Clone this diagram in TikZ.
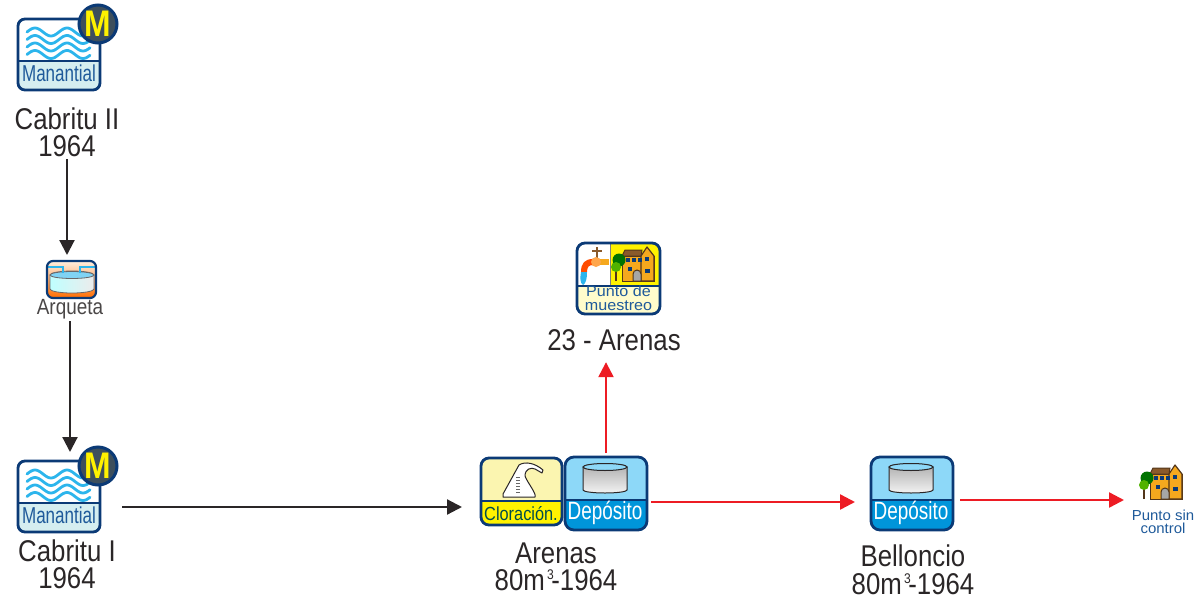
\documentclass[tikz,border=0pt]{standalone}
\usepackage{fontspec}
\setmainfont[FakeStretch=0.86]{Liberation Sans}
\usetikzlibrary{arrows.meta}
\definecolor{navy}{HTML}{0B3A76}
\definecolor{sky}{HTML}{2CB5EC}
\definecolor{ink}{HTML}{2A2627}
\definecolor{bluetxt}{HTML}{1F5A9A}
\definecolor{brick}{HTML}{8A5A2B}
\definecolor{amber}{HTML}{F5A81E}
\definecolor{slate}{HTML}{3D4F5C}
\definecolor{mist}{HTML}{D5EEF0}
\definecolor{cream}{HTML}{FBF5B0}
\definecolor{paleblue}{HTML}{8DD8F8}
\definecolor{deepblue}{HTML}{0095DA}
\definecolor{signal}{HTML}{ED1C24}
\newcommand{\fsize}[1]{\fontsize{#1}{#1}\selectfont}
\newcommand{\iconbase}[6]{% width, height, divider, top, bottom, rounding
  \begin{scope}
    \clip[rounded corners=#6pt] (0,0) rectangle (#1,#2);
    \fill[#4] (0,0) rectangle (#1,#3);
    \fill[#5] (0,#3) rectangle (#1,#2);
  \end{scope}
}
\newcommand{\iconframe}[4]{% width, height, divider, rounding
  \draw[navy, line width=2pt] (0,#3) -- (#1,#3);
  \node[draw=navy, line width=2.8pt, rounded corners=#4pt, inner sep=0pt, outer sep=0pt, anchor=north west,
        minimum width=#1pt, minimum height=#2pt] (-box) at (0,0) {};
}
\tikzset{
  darrow/.style={draw=ink, line width=2.2pt, -{Triangle[length=15pt,width=15pt]}},
  rarrow/.style={draw=signal, line width=2.4pt, -{Triangle[length=15pt,width=15pt]}},
  caption/.style={text=ink, font=\fsize{30}, align=center, inner sep=0pt, text depth=0pt},
  wave/.style={draw=sky, line width=2.8pt, line cap=round},
  drum/.style={draw=ink, line width=1pt, top color=black!32, bottom color=black!5},
  manantial/.pic={
    \iconbase{82}{71}{42}{white}{mist}{7}
    \foreach \r in {13,20.5,28,35.5}
      \draw[wave] plot[domain=9:72,samples=50] (\x,{\r-4*cos(11.25*(\x-17))});
    \iconframe{82}{71}{42}{7}
    \node[text=bluetxt, font=\fsize{23}, inner sep=0pt] (-txt) at (41,54) {\scalebox{.86}[1]{Manantial}};
    \fill[slate, draw=navy, line width=3pt] (80,5) circle (19);
    \node[text=yellow, font=\fsize{37}\bfseries, inner sep=0pt] (-m) at (80,5) {M};
  },
  deposito/.pic={
    \iconbase{82}{73}{43}{paleblue}{deepblue}{9}
    \path[drum] (18,10) -- (18,33) arc[start angle=180,end angle=0,x radius=22,y radius=3]
      -- (62,10) arc[start angle=360,end angle=180,x radius=22,y radius=3];
    \draw[ink, line width=1pt, fill=paleblue] (40,10) ellipse (22 and 3.5);
    \iconframe{82}{73}{43}{9}
    \node[text=white, font=\fsize{25}, inner sep=0pt] (-txt) at (40,56) {\scalebox{.88}[1]{Depósito}};
  },
  cloracion/.pic={
    \iconbase{81}{67}{43}{cream}{yellow}{8}
    \draw[ink, line width=1pt, fill=white, line join=round] (22,39) -- (54,39)
      .. controls (56,36) and (46,24) .. (44,18)
      .. controls (44,11) and (50,9) .. (54,11) -- (61,15) -- (62,12)
      .. controls (54,5) and (44,3) .. (38,7) -- (22,36) -- cycle;
    \foreach \t in {19,22,...,35}
      \draw[black!60, line width=.7pt] (35,\t) -- (39,\t);
    \iconframe{81}{67}{43}{8}
    \node[text=teal!60!black, font=\fsize{19}, inner sep=0pt] (-txt) at (40,56) {Cloración.};
  },
  arqueta/.pic={
    \begin{scope}
      \clip[rounded corners=6pt] (0,0) rectangle (49,37);
      \shade[top color=orange!12!white, bottom color=orange!85!red] (0,0) rectangle (49,37);
    \end{scope}
    \path[draw=ink!70, line width=.8pt, left color=cyan!25!white, right color=white!85!gray]
      (3,14) -- (3,28) arc[start angle=180,end angle=0,x radius=22,y radius=4]
      -- (47,14) arc[start angle=360,end angle=180,x radius=22,y radius=4];
    \draw[ink!70, line width=.8pt, fill=sky!60!white] (25,14) ellipse (22 and 3.5);
    \draw[sky, line width=2.6pt] (1,6) -- (16,6) -- (16,12) (48,6) -- (33,6) -- (33,12);
    \node[draw=navy, line width=2.2pt, rounded corners=6pt, inner sep=0pt, outer sep=0pt, anchor=north west,
          minimum width=49pt, minimum height=37pt] (-box) at (0,0) {};
  },
  casa/.pic={
    \draw[brick!60!black, line width=1pt, fill=amber] (9,10) rectangle (41,35);
    \draw[brick!60!black, line width=1.2pt, fill=amber, line join=round] (28,35) -- (28,10) -- (34,1) -- (41,10) -- (41,35) -- cycle;
    \draw[brick!60!black, line width=1pt, fill=brick] (12,4) -- (29,4) -- (28,10) -- (9,10) -- cycle;
    \foreach \p in {13,19,25} \fill[navy] (\p,12) rectangle +(4,4);
    \fill[navy] (15,21) rectangle +(4,4);
    \fill[navy] (32,11) rectangle +(4,4);
    \fill[navy] (32,23) rectangle +(5,4);
    \draw[brick!60!black, line width=1pt, fill=black!35] (20,35) -- (20,28) arc[start angle=180,end angle=360,radius=4] -- (28,35) -- cycle;
    \draw[brick!60!black, line width=1.4pt] (3,35) -- (3,20);
    \fill[green!45!black] (6,14) circle (6.5);
    \fill[green!55!yellow!70!black] (3,21) circle (5);
  },
  grifo/.pic={
    \draw[brick, line width=1.6pt] (20,4) -- (20,15) (15,8) -- (25,8);
    \fill[amber] (18,16) rectangle (32,22);
    \fill[orange!60!red] (4,29) .. controls (4,20) and (8,16) .. (16,16) -- (16,22)
      .. controls (12,22) and (10,24) .. (10,29) -- cycle;
    \fill[orange!70!white] (19,19) circle (5);
    \fill[sky] (4,29) -- (10,29) .. controls (10,36) and (9,40) .. (6,42) .. controls (3,40) and (3,35) .. cycle;
  },
  punto/.pic={
    \iconbase{83}{71}{43}{white}{yellow!20!white}{8}
    \begin{scope}
      \clip[rounded corners=8pt] (0,0) rectangle (83,71);
      \fill[yellow] (33,0) rectangle (83,43);
    \end{scope}
    \draw[black!50, line width=.8pt] (33,1) -- (33,43);
    \pic at (36,3) {casa};
    \pic at (0,0) {grifo};
    \iconframe{83}{71}{43}{8}
    \node[text=bluetxt, font=\fsize{15}, inner sep=0pt, align=center, xscale=1.25, transform shape] (-txt) at (41.5,55.5) {Punto de\\[-1pt]muestreo};
  }
}
\begin{document}
\begin{tikzpicture}[x=1pt, y=-1pt]
  \useasboundingbox (0,0) rectangle (1200,600);
  \pic (manA) at (18,19) {manantial};
  \pic (manB) at (18,461) {manantial};
  \pic (arq) at (47,261) {arqueta};
  \pic (pto) at (577,243) {punto};
  \pic (cloA) at (481,458) {cloracion};
  \pic (depA) at (565,457) {deposito};
  \pic (depB) at (871,457) {deposito};
  \pic (casaB) at (1141,464) {casa};
  \node[caption] (cabA) at (67,132) {Cabritu II\\[-2.5pt]1964};
  \node[caption] (cabB) at (67,564) {Cabritu I\\[-2.5pt]1964};
  \node[text=ink!85, font=\fsize{22}, inner sep=0pt] (arqtxt) at (70,309) {Arqueta};
  \node[caption] (ptotxt) at (614,340.5) {23 - Arenas};
  \node[caption] (arenas) at (556,566.5) {Arenas\\[-2.5pt]80m\raisebox{11pt}{\makebox[0pt][l]{\fsize{14}\,3}}\hspace{6.5pt}-1964};
  \node[caption] (belon) at (913,569.5) {Belloncio\\[-2.5pt]80m\raisebox{11pt}{\makebox[0pt][l]{\fsize{14}\,3}}\hspace{6.5pt}-1964};
  \node[text=bluetxt, font=\fsize{14.5}, inner sep=0pt, align=center, xscale=1.2, transform shape] (sincontrol) at (1163,521.5) {Punto sin\\[-1.5pt]control};
  \coordinate (casaW) at (1141,482);
  \draw[darrow, shorten <=2pt, shorten >=6pt] (cabA.south) -- (cabA.south |- arq-box.north);
  \draw[darrow, shorten <=2pt, shorten >=9pt] (arqtxt.south) -- (arqtxt.south |- manB-box.north);
  \draw[darrow, shorten <=22pt, shorten >=19pt] ([yshift=-10.5pt]manB-box.east) -- ([yshift=-10.5pt]manB-box.east -| cloA-box.west);
  \draw[rarrow, shorten <=4pt, shorten >=11pt] (depA-box.north) -- (depA-box.north |- ptotxt.south);
  \draw[rarrow, shorten <=4pt, shorten >=16pt] ([yshift=-8.5pt]depA-box.east) -- ([yshift=-8.5pt]depA-box.east -| depB-box.west);
  \draw[rarrow, shorten <=7pt, shorten >=17pt] ([yshift=-6.5pt]depB-box.east) -- ([yshift=-6.5pt]depB-box.east -| casaW);
\end{tikzpicture}
\end{document}
